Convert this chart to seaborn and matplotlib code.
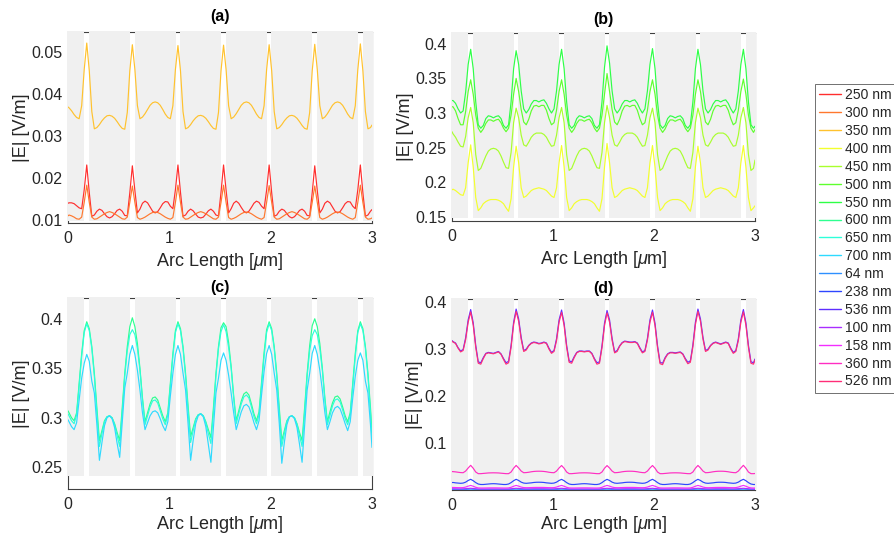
import colorsys
import numpy as np
import pandas as pd
import matplotlib
matplotlib.use("Agg")
import matplotlib.pyplot as plt
from matplotlib.lines import Line2D
import seaborn as sns

sns.set_theme(style="white")
plt.rcParams["font.family"] = ["Liberation Sans", "DejaVu Sans"]
plt.rcParams["mathtext.fontset"] = "custom"
plt.rcParams["mathtext.rm"] = "Liberation Sans"
plt.rcParams["mathtext.it"] = "Liberation Sans:italic"
plt.rcParams["axes.axisbelow"] = True

# ---------------- data ----------------
# sampling positions along the arc [um]
arc_length = np.concatenate([[0.0], np.round(0.01 + 0.025 * np.arange(120), 3), [3.0]])

wavelength_labels = ["250 nm", "300 nm", "350 nm", "400 nm", "450 nm", "500 nm",
                     "550 nm", "600 nm", "650 nm", "700 nm", "64 nm", "238 nm",
                     "536 nm", "100 nm", "158 nm", "360 nm", "526 nm"]

# white gaps between the grey regions (structure), in um
gray_start = [0.0, 0.207, 0.657, 1.107, 1.557, 2.007, 2.457, 2.907]
gray_end = [0.161, 0.611, 1.061, 1.511, 1.961, 2.411, 2.861, 3.0]

# panel (a)
e250 = [0.0140, 0.0141, 0.0141, 0.0139, 0.0134, 0.0129, 0.0127, 0.0172,
        0.0231, 0.0165, 0.0109, 0.0112, 0.0121, 0.0126, 0.0123, 0.0115, 0.0108, 0.0105, 0.0108, 0.0115, 0.0123, 0.0126, 0.0121, 0.0111, 0.0110, 0.0165,
        0.0229, 0.0170, 0.0117, 0.0126, 0.0140, 0.0145, 0.0141, 0.0131, 0.0121, 0.0117, 0.0120, 0.0129, 0.0139, 0.0144, 0.0143, 0.0133, 0.0127, 0.0172,
        0.0231, 0.0166, 0.0109, 0.0112, 0.0121, 0.0126, 0.0122, 0.0114, 0.0107, 0.0105, 0.0107, 0.0114, 0.0122, 0.0126, 0.0121, 0.0112, 0.0110, 0.0166,
        0.0231, 0.0171, 0.0117, 0.0127, 0.0140, 0.0145, 0.0140, 0.0130, 0.0121, 0.0117, 0.0121, 0.0130, 0.0140, 0.0145, 0.0142, 0.0133, 0.0127, 0.0171,
        0.0231, 0.0165, 0.0109, 0.0112, 0.0121, 0.0126, 0.0123, 0.0115, 0.0108, 0.0105, 0.0108, 0.0115, 0.0123, 0.0126, 0.0121, 0.0111, 0.0110, 0.0165,
        0.0229, 0.0170, 0.0117, 0.0126, 0.0140, 0.0145, 0.0141, 0.0131, 0.0121, 0.0117, 0.0120, 0.0129, 0.0139, 0.0144, 0.0143, 0.0133, 0.0127, 0.0172,
        0.0231, 0.0165, 0.0109, 0.0112, 0.0121, 0.0125]
e300 = [0.0110, 0.0112, 0.0110, 0.0107, 0.0103, 0.0102, 0.0107, 0.0142,
        0.0183, 0.0142, 0.0107, 0.0102, 0.0103, 0.0107, 0.0111, 0.0115, 0.0118, 0.0120, 0.0118, 0.0115, 0.0111, 0.0107, 0.0103, 0.0102, 0.0107, 0.0142,
        0.0181, 0.0142, 0.0106, 0.0102, 0.0104, 0.0107, 0.0111, 0.0115, 0.0118, 0.0119, 0.0118, 0.0115, 0.0111, 0.0107, 0.0104, 0.0102, 0.0106, 0.0142,
        0.0183, 0.0142, 0.0107, 0.0102, 0.0103, 0.0107, 0.0111, 0.0115, 0.0118, 0.0120, 0.0118, 0.0115, 0.0111, 0.0107, 0.0103, 0.0102, 0.0107, 0.0142,
        0.0183, 0.0142, 0.0106, 0.0102, 0.0104, 0.0107, 0.0111, 0.0115, 0.0118, 0.0119, 0.0118, 0.0115, 0.0111, 0.0107, 0.0104, 0.0102, 0.0106, 0.0142,
        0.0182, 0.0142, 0.0107, 0.0102, 0.0103, 0.0107, 0.0111, 0.0115, 0.0118, 0.0120, 0.0118, 0.0115, 0.0111, 0.0107, 0.0103, 0.0102, 0.0107, 0.0142,
        0.0181, 0.0142, 0.0106, 0.0102, 0.0104, 0.0107, 0.0111, 0.0115, 0.0118, 0.0119, 0.0118, 0.0115, 0.0111, 0.0107, 0.0104, 0.0102, 0.0106, 0.0142,
        0.0183, 0.0142, 0.0107, 0.0102, 0.0103, 0.0105]
e350 = [0.0369, 0.0367, 0.0360, 0.0351, 0.0344, 0.0341, 0.0372, 0.0458,
        0.0521, 0.0455, 0.0358, 0.0317, 0.0320, 0.0327, 0.0336, 0.0343, 0.0348, 0.0349, 0.0347, 0.0342, 0.0334, 0.0325, 0.0318, 0.0316, 0.0356, 0.0455,
        0.0517, 0.0458, 0.0372, 0.0341, 0.0345, 0.0353, 0.0363, 0.0373, 0.0379, 0.0381, 0.0379, 0.0373, 0.0363, 0.0352, 0.0344, 0.0341, 0.0372, 0.0458,
        0.0515, 0.0455, 0.0358, 0.0317, 0.0320, 0.0327, 0.0336, 0.0343, 0.0348, 0.0349, 0.0347, 0.0342, 0.0334, 0.0325, 0.0318, 0.0316, 0.0356, 0.0455,
        0.0516, 0.0458, 0.0372, 0.0341, 0.0345, 0.0353, 0.0363, 0.0373, 0.0379, 0.0381, 0.0379, 0.0373, 0.0363, 0.0352, 0.0344, 0.0341, 0.0372, 0.0458,
        0.0517, 0.0455, 0.0358, 0.0317, 0.0320, 0.0327, 0.0336, 0.0343, 0.0348, 0.0349, 0.0347, 0.0342, 0.0334, 0.0325, 0.0318, 0.0316, 0.0356, 0.0455,
        0.0518, 0.0458, 0.0372, 0.0341, 0.0345, 0.0353, 0.0363, 0.0373, 0.0379, 0.0381, 0.0379, 0.0373, 0.0363, 0.0352, 0.0344, 0.0341, 0.0372, 0.0458,
        0.0519, 0.0455, 0.0358, 0.0317, 0.0320, 0.0326]

# panel (b)
e400 = [0.189, 0.190, 0.188, 0.185, 0.182, 0.181, 0.192, 0.228,
        0.254, 0.222, 0.178, 0.159, 0.163, 0.169, 0.172, 0.174, 0.175, 0.175, 0.175, 0.174, 0.172, 0.169, 0.163, 0.158, 0.176, 0.222,
        0.252, 0.228, 0.192, 0.178, 0.180, 0.184, 0.188, 0.190, 0.191, 0.192, 0.191, 0.190, 0.188, 0.184, 0.180, 0.178, 0.192, 0.228,
        0.253, 0.222, 0.178, 0.159, 0.163, 0.169, 0.172, 0.174, 0.175, 0.175, 0.175, 0.174, 0.172, 0.169, 0.163, 0.158, 0.176, 0.222,
        0.256, 0.228, 0.192, 0.178, 0.180, 0.184, 0.188, 0.190, 0.191, 0.192, 0.191, 0.190, 0.188, 0.184, 0.180, 0.178, 0.192, 0.228,
        0.253, 0.222, 0.178, 0.159, 0.163, 0.169, 0.172, 0.174, 0.175, 0.175, 0.175, 0.174, 0.172, 0.169, 0.163, 0.158, 0.176, 0.222,
        0.252, 0.228, 0.192, 0.178, 0.180, 0.184, 0.188, 0.190, 0.191, 0.192, 0.191, 0.190, 0.188, 0.184, 0.180, 0.178, 0.192, 0.228,
        0.253, 0.222, 0.178, 0.159, 0.163, 0.166]
e450 = [0.273, 0.270, 0.265, 0.258, 0.252, 0.251, 0.266, 0.293,
        0.308, 0.286, 0.240, 0.217, 0.220, 0.229, 0.238, 0.245, 0.248, 0.249, 0.248, 0.245, 0.238, 0.229, 0.221, 0.220, 0.243, 0.286,
        0.307, 0.293, 0.268, 0.254, 0.252, 0.258, 0.265, 0.269, 0.271, 0.271, 0.271, 0.269, 0.265, 0.258, 0.252, 0.253, 0.268, 0.293,
        0.308, 0.286, 0.240, 0.217, 0.220, 0.229, 0.238, 0.245, 0.248, 0.249, 0.248, 0.245, 0.238, 0.229, 0.221, 0.220, 0.243, 0.286,
        0.311, 0.293, 0.268, 0.254, 0.252, 0.258, 0.265, 0.269, 0.271, 0.271, 0.271, 0.269, 0.265, 0.258, 0.252, 0.253, 0.268, 0.293,
        0.307, 0.286, 0.240, 0.217, 0.220, 0.229, 0.238, 0.245, 0.248, 0.249, 0.248, 0.245, 0.238, 0.229, 0.221, 0.220, 0.243, 0.286,
        0.307, 0.293, 0.268, 0.254, 0.252, 0.258, 0.265, 0.269, 0.271, 0.271, 0.271, 0.269, 0.265, 0.258, 0.252, 0.253, 0.268, 0.293,
        0.308, 0.286, 0.240, 0.217, 0.220, 0.232]
e500 = [0.309, 0.309, 0.303, 0.292, 0.283, 0.283, 0.302, 0.331,
        0.348, 0.327, 0.297, 0.278, 0.272, 0.277, 0.285, 0.290, 0.290, 0.288, 0.290, 0.291, 0.286, 0.278, 0.273, 0.278, 0.297, 0.327,
        0.350, 0.331, 0.305, 0.287, 0.283, 0.291, 0.303, 0.310, 0.311, 0.309, 0.311, 0.311, 0.304, 0.292, 0.283, 0.286, 0.304, 0.331,
        0.348, 0.327, 0.297, 0.278, 0.272, 0.277, 0.285, 0.290, 0.290, 0.288, 0.290, 0.291, 0.286, 0.278, 0.273, 0.278, 0.297, 0.327,
        0.357, 0.331, 0.305, 0.287, 0.283, 0.291, 0.303, 0.310, 0.311, 0.309, 0.311, 0.311, 0.304, 0.292, 0.283, 0.286, 0.304, 0.331,
        0.348, 0.327, 0.297, 0.278, 0.272, 0.277, 0.285, 0.290, 0.290, 0.288, 0.290, 0.291, 0.286, 0.278, 0.273, 0.278, 0.297, 0.327,
        0.348, 0.331, 0.305, 0.287, 0.283, 0.291, 0.303, 0.310, 0.311, 0.309, 0.311, 0.311, 0.304, 0.292, 0.283, 0.286, 0.304, 0.331,
        0.349, 0.327, 0.297, 0.278, 0.272, 0.276]
e550 = [0.318, 0.318, 0.314, 0.306, 0.300, 0.303, 0.330, 0.370,
        0.392, 0.364, 0.316, 0.283, 0.278, 0.282, 0.292, 0.296, 0.295, 0.293, 0.295, 0.296, 0.292, 0.282, 0.278, 0.283, 0.316, 0.364,
        0.390, 0.370, 0.332, 0.306, 0.300, 0.305, 0.313, 0.318, 0.318, 0.316, 0.318, 0.319, 0.314, 0.306, 0.300, 0.306, 0.332, 0.370,
        0.392, 0.364, 0.316, 0.283, 0.278, 0.282, 0.292, 0.296, 0.295, 0.293, 0.295, 0.296, 0.292, 0.282, 0.278, 0.283, 0.316, 0.366,
        0.397, 0.372, 0.332, 0.306, 0.300, 0.305, 0.313, 0.318, 0.318, 0.316, 0.318, 0.319, 0.314, 0.306, 0.300, 0.306, 0.332, 0.370,
        0.393, 0.364, 0.316, 0.283, 0.278, 0.282, 0.292, 0.296, 0.295, 0.293, 0.295, 0.296, 0.292, 0.282, 0.278, 0.283, 0.316, 0.364,
        0.392, 0.370, 0.332, 0.306, 0.300, 0.305, 0.313, 0.318, 0.318, 0.316, 0.318, 0.319, 0.314, 0.306, 0.300, 0.306, 0.332, 0.370,
        0.392, 0.364, 0.316, 0.283, 0.278, 0.281]

# panel (c)
e600 = [0.307, 0.305, 0.300, 0.297, 0.305, 0.335, 0.365, 0.388,
        0.397, 0.390, 0.372, 0.345, 0.310, 0.277, 0.287, 0.297, 0.301, 0.302, 0.300, 0.294, 0.285, 0.277, 0.310, 0.345, 0.372, 0.392,
        0.401, 0.392, 0.375, 0.350, 0.320, 0.296, 0.305, 0.314, 0.320, 0.321, 0.318, 0.310, 0.302, 0.296, 0.305, 0.335, 0.365, 0.388,
        0.397, 0.390, 0.372, 0.345, 0.312, 0.281, 0.290, 0.299, 0.303, 0.304, 0.302, 0.296, 0.288, 0.280, 0.310, 0.345, 0.372, 0.391,
        0.396, 0.392, 0.376, 0.352, 0.322, 0.297, 0.307, 0.317, 0.324, 0.326, 0.323, 0.314, 0.304, 0.297, 0.306, 0.336, 0.366, 0.389,
        0.397, 0.390, 0.372, 0.345, 0.310, 0.277, 0.287, 0.297, 0.301, 0.302, 0.300, 0.294, 0.285, 0.277, 0.310, 0.345, 0.373, 0.393,
        0.400, 0.392, 0.375, 0.350, 0.320, 0.296, 0.306, 0.315, 0.321, 0.322, 0.319, 0.311, 0.302, 0.296, 0.305, 0.335, 0.365, 0.388,
        0.397, 0.390, 0.372, 0.345, 0.310, 0.285]
e650 = [0.304, 0.302, 0.297, 0.294, 0.303, 0.332, 0.362, 0.386,
        0.395, 0.388, 0.370, 0.342, 0.305, 0.271, 0.284, 0.296, 0.301, 0.302, 0.300, 0.293, 0.282, 0.271, 0.305, 0.342, 0.368, 0.384,
        0.389, 0.384, 0.370, 0.348, 0.318, 0.293, 0.302, 0.311, 0.317, 0.318, 0.315, 0.307, 0.299, 0.293, 0.303, 0.332, 0.362, 0.386,
        0.395, 0.388, 0.370, 0.342, 0.307, 0.275, 0.287, 0.298, 0.303, 0.304, 0.302, 0.295, 0.284, 0.274, 0.305, 0.342, 0.370, 0.387,
        0.394, 0.387, 0.371, 0.350, 0.320, 0.294, 0.304, 0.314, 0.321, 0.323, 0.320, 0.311, 0.301, 0.294, 0.303, 0.332, 0.362, 0.386,
        0.395, 0.388, 0.370, 0.342, 0.305, 0.271, 0.284, 0.296, 0.301, 0.302, 0.300, 0.293, 0.282, 0.271, 0.305, 0.342, 0.368, 0.383,
        0.389, 0.384, 0.370, 0.348, 0.318, 0.293, 0.302, 0.312, 0.318, 0.319, 0.316, 0.308, 0.299, 0.293, 0.303, 0.332, 0.362, 0.386,
        0.395, 0.388, 0.370, 0.342, 0.305, 0.280]
e700 = [0.298, 0.296, 0.291, 0.288, 0.295, 0.318, 0.340, 0.355,
        0.364, 0.357, 0.337, 0.325, 0.293, 0.257, 0.275, 0.292, 0.300, 0.302, 0.299, 0.290, 0.274, 0.260, 0.295, 0.330, 0.345, 0.364,
        0.373, 0.364, 0.348, 0.328, 0.305, 0.288, 0.295, 0.302, 0.306, 0.307, 0.305, 0.299, 0.292, 0.287, 0.296, 0.322, 0.345, 0.364,
        0.373, 0.364, 0.345, 0.328, 0.294, 0.257, 0.277, 0.294, 0.302, 0.304, 0.301, 0.291, 0.273, 0.255, 0.290, 0.325, 0.340, 0.358,
        0.3655, 0.358, 0.343, 0.325, 0.305, 0.288, 0.297, 0.306, 0.312, 0.3135, 0.311, 0.304, 0.295, 0.288, 0.297, 0.323, 0.347, 0.365,
        0.373, 0.364, 0.345, 0.328, 0.294, 0.254, 0.275, 0.293, 0.301, 0.302, 0.299, 0.290, 0.273, 0.255, 0.292, 0.328, 0.345, 0.365,
        0.373, 0.364, 0.348, 0.328, 0.305, 0.288, 0.296, 0.305, 0.310, 0.3115, 0.309, 0.302, 0.294, 0.287, 0.296, 0.320, 0.342, 0.358,
        0.3655, 0.358, 0.337, 0.325, 0.293, 0.270]

# panel (d)
e64 = [0.0019, 0.0019, 0.0019, 0.0018, 0.0018, 0.0018, 0.0020, 0.0023,
       0.0025, 0.0023, 0.0020, 0.0018, 0.0017, 0.0017, 0.0017, 0.0017, 0.0017, 0.0017, 0.0017, 0.0017, 0.0017, 0.0017, 0.0017, 0.0018, 0.0020, 0.0023,
       0.0025, 0.0023, 0.0020, 0.0018, 0.0018, 0.0018, 0.0019, 0.0019, 0.0019, 0.0019, 0.0019, 0.0019, 0.0018, 0.0018, 0.0018, 0.0018, 0.0020, 0.0023,
       0.0025, 0.0023, 0.0020, 0.0018, 0.0017, 0.0017, 0.0017, 0.0017, 0.0017, 0.0017, 0.0017, 0.0017, 0.0017, 0.0017, 0.0017, 0.0018, 0.0020, 0.0023,
       0.0025, 0.0023, 0.0020, 0.0018, 0.0018, 0.0018, 0.0019, 0.0019, 0.0019, 0.0019, 0.0019, 0.0019, 0.0018, 0.0018, 0.0018, 0.0018, 0.0020, 0.0023,
       0.0025, 0.0023, 0.0020, 0.0018, 0.0017, 0.0017, 0.0017, 0.0017, 0.0017, 0.0017, 0.0017, 0.0017, 0.0017, 0.0017, 0.0017, 0.0018, 0.0020, 0.0023,
       0.0025, 0.0023, 0.0020, 0.0018, 0.0018, 0.0018, 0.0019, 0.0019, 0.0019, 0.0019, 0.0019, 0.0019, 0.0018, 0.0018, 0.0018, 0.0018, 0.0020, 0.0023,
       0.0025, 0.0023, 0.0020, 0.0018, 0.0017, 0.0017]
e238 = [0.0166, 0.0168, 0.0160, 0.0155, 0.0150, 0.0155, 0.0175, 0.0210,
        0.0235, 0.0205, 0.0165, 0.0135, 0.0125, 0.0125, 0.0130, 0.0135, 0.0140, 0.0142, 0.0140, 0.0135, 0.0130, 0.0125, 0.0125, 0.0135, 0.0165, 0.0205,
        0.0235, 0.0210, 0.0175, 0.0155, 0.0150, 0.0155, 0.0160, 0.0168, 0.0172, 0.0173, 0.0172, 0.0168, 0.0160, 0.0155, 0.0150, 0.0155, 0.0175, 0.0210,
        0.0234, 0.0205, 0.0165, 0.0135, 0.0125, 0.0125, 0.0130, 0.0135, 0.0140, 0.0142, 0.0140, 0.0135, 0.0130, 0.0125, 0.0125, 0.0135, 0.0165, 0.0205,
        0.0234, 0.0210, 0.0175, 0.0155, 0.0150, 0.0155, 0.0160, 0.0168, 0.0172, 0.0173, 0.0172, 0.0168, 0.0160, 0.0155, 0.0150, 0.0155, 0.0175, 0.0210,
        0.0235, 0.0205, 0.0165, 0.0135, 0.0125, 0.0125, 0.0130, 0.0135, 0.0140, 0.0142, 0.0140, 0.0135, 0.0130, 0.0125, 0.0125, 0.0135, 0.0165, 0.0205,
        0.0235, 0.0210, 0.0175, 0.0155, 0.0150, 0.0155, 0.0160, 0.0168, 0.0172, 0.0173, 0.0172, 0.0168, 0.0160, 0.0155, 0.0150, 0.0155, 0.0175, 0.0210,
        0.0235, 0.0205, 0.0165, 0.0135, 0.0125, 0.0125]
e536 = [0.318, 0.316, 0.313, 0.303, 0.296, 0.299, 0.324, 0.362,
        0.384, 0.356, 0.308, 0.273, 0.271, 0.282, 0.291, 0.293, 0.292, 0.291, 0.293, 0.295, 0.290, 0.280, 0.271, 0.274, 0.308, 0.357,
        0.385, 0.364, 0.325, 0.297, 0.300, 0.308, 0.313, 0.315, 0.314, 0.312, 0.313, 0.315, 0.313, 0.302, 0.293, 0.297, 0.322, 0.362,
        0.383, 0.355, 0.308, 0.275, 0.273, 0.284, 0.293, 0.296, 0.296, 0.295, 0.296, 0.296, 0.291, 0.280, 0.271, 0.273, 0.307, 0.355,
        0.382, 0.362, 0.323, 0.294, 0.297, 0.307, 0.314, 0.317, 0.316, 0.315, 0.315, 0.316, 0.313, 0.303, 0.294, 0.297, 0.323, 0.362,
        0.383, 0.355, 0.307, 0.272, 0.270, 0.282, 0.290, 0.293, 0.293, 0.292, 0.293, 0.294, 0.290, 0.280, 0.272, 0.275, 0.309, 0.357,
        0.385, 0.364, 0.325, 0.297, 0.300, 0.308, 0.313, 0.315, 0.313, 0.311, 0.313, 0.315, 0.313, 0.302, 0.293, 0.297, 0.322, 0.362,
        0.384, 0.356, 0.308, 0.273, 0.271, 0.279]
e100 = [0.0034, 0.0034, 0.0033, 0.0032, 0.0032, 0.0033, 0.0036, 0.0041,
        0.0045, 0.0040, 0.0034, 0.0030, 0.0029, 0.0029, 0.0029, 0.0030, 0.0030, 0.0030, 0.0030, 0.0030, 0.0029, 0.0029, 0.0029, 0.0030, 0.0034, 0.0040,
        0.0045, 0.0041, 0.0036, 0.0033, 0.0032, 0.0032, 0.0033, 0.0034, 0.0034, 0.0034, 0.0034, 0.0034, 0.0033, 0.0032, 0.0032, 0.0033, 0.0036, 0.0041,
        0.0045, 0.0040, 0.0034, 0.0030, 0.0029, 0.0029, 0.0029, 0.0030, 0.0030, 0.0030, 0.0030, 0.0030, 0.0029, 0.0029, 0.0029, 0.0030, 0.0034, 0.0040,
        0.0045, 0.0041, 0.0036, 0.0033, 0.0032, 0.0032, 0.0033, 0.0034, 0.0034, 0.0034, 0.0034, 0.0034, 0.0033, 0.0032, 0.0032, 0.0033, 0.0036, 0.0041,
        0.0045, 0.0040, 0.0034, 0.0030, 0.0029, 0.0029, 0.0029, 0.0030, 0.0030, 0.0030, 0.0030, 0.0030, 0.0029, 0.0029, 0.0029, 0.0030, 0.0034, 0.0040,
        0.0045, 0.0041, 0.0036, 0.0033, 0.0032, 0.0032, 0.0033, 0.0034, 0.0034, 0.0034, 0.0034, 0.0034, 0.0033, 0.0032, 0.0032, 0.0033, 0.0036, 0.0041,
        0.0045, 0.0040, 0.0034, 0.0030, 0.0029, 0.0029]
e158 = [0.0062, 0.0062, 0.0060, 0.0058, 0.0057, 0.0059, 0.0070, 0.0090,
        0.0105, 0.0088, 0.0065, 0.0052, 0.0050, 0.0050, 0.0051, 0.0052, 0.0053, 0.0053, 0.0053, 0.0052, 0.0051, 0.0050, 0.0050, 0.0052, 0.0065, 0.0088,
        0.0105, 0.0090, 0.0070, 0.0059, 0.0057, 0.0058, 0.0060, 0.0062, 0.0063, 0.0063, 0.0063, 0.0062, 0.0060, 0.0058, 0.0057, 0.0059, 0.0070, 0.0090,
        0.0105, 0.0088, 0.0065, 0.0052, 0.0050, 0.0050, 0.0051, 0.0052, 0.0053, 0.0053, 0.0053, 0.0052, 0.0051, 0.0050, 0.0050, 0.0052, 0.0065, 0.0088,
        0.0105, 0.0090, 0.0070, 0.0059, 0.0057, 0.0058, 0.0060, 0.0062, 0.0063, 0.0063, 0.0063, 0.0062, 0.0060, 0.0058, 0.0057, 0.0059, 0.0070, 0.0090,
        0.0105, 0.0088, 0.0065, 0.0052, 0.0050, 0.0050, 0.0051, 0.0052, 0.0053, 0.0053, 0.0053, 0.0052, 0.0051, 0.0050, 0.0050, 0.0052, 0.0065, 0.0088,
        0.0105, 0.0090, 0.0070, 0.0059, 0.0057, 0.0058, 0.0060, 0.0062, 0.0063, 0.0063, 0.0063, 0.0062, 0.0060, 0.0058, 0.0057, 0.0059, 0.0070, 0.0090,
        0.0105, 0.0088, 0.0065, 0.0052, 0.0050, 0.0050]
e360 = [0.0400, 0.0398, 0.0393, 0.0385, 0.0378, 0.0375, 0.0410, 0.0475,
        0.0532, 0.0470, 0.0390, 0.0355, 0.0355, 0.0360, 0.0365, 0.0370, 0.0372, 0.0373, 0.0372, 0.0370, 0.0365, 0.0360, 0.0355, 0.0355, 0.0390, 0.0470,
        0.0530, 0.0475, 0.0410, 0.0375, 0.0378, 0.0385, 0.0395, 0.0402, 0.0406, 0.0407, 0.0406, 0.0402, 0.0395, 0.0385, 0.0378, 0.0375, 0.0410, 0.0475,
        0.0528, 0.0470, 0.0390, 0.0355, 0.0355, 0.0360, 0.0365, 0.0370, 0.0372, 0.0373, 0.0372, 0.0370, 0.0365, 0.0360, 0.0355, 0.0355, 0.0390, 0.0470,
        0.0527, 0.0475, 0.0410, 0.0375, 0.0378, 0.0385, 0.0395, 0.0402, 0.0406, 0.0407, 0.0406, 0.0402, 0.0395, 0.0385, 0.0378, 0.0375, 0.0410, 0.0475,
        0.0528, 0.0470, 0.0390, 0.0355, 0.0355, 0.0360, 0.0365, 0.0370, 0.0372, 0.0373, 0.0372, 0.0370, 0.0365, 0.0360, 0.0355, 0.0355, 0.0390, 0.0470,
        0.0530, 0.0475, 0.0410, 0.0375, 0.0378, 0.0385, 0.0395, 0.0402, 0.0406, 0.0407, 0.0406, 0.0402, 0.0395, 0.0385, 0.0378, 0.0375, 0.0410, 0.0475,
        0.0532, 0.0470, 0.0390, 0.0355, 0.0355, 0.0358]
e526 = [0.317, 0.315, 0.312, 0.302, 0.294, 0.297, 0.320, 0.357,
        0.379, 0.351, 0.304, 0.270, 0.268, 0.280, 0.290, 0.292, 0.291, 0.290, 0.292, 0.294, 0.289, 0.278, 0.268, 0.271, 0.304, 0.352,
        0.380, 0.359, 0.321, 0.295, 0.298, 0.307, 0.312, 0.314, 0.313, 0.311, 0.312, 0.314, 0.312, 0.300, 0.291, 0.295, 0.318, 0.357,
        0.378, 0.350, 0.304, 0.272, 0.270, 0.282, 0.292, 0.295, 0.295, 0.294, 0.295, 0.295, 0.290, 0.278, 0.268, 0.270, 0.303, 0.350,
        0.377, 0.357, 0.319, 0.292, 0.295, 0.306, 0.313, 0.316, 0.315, 0.314, 0.314, 0.315, 0.312, 0.301, 0.292, 0.295, 0.319, 0.357,
        0.378, 0.350, 0.303, 0.269, 0.267, 0.280, 0.289, 0.292, 0.292, 0.291, 0.292, 0.293, 0.289, 0.278, 0.269, 0.272, 0.305, 0.352,
        0.380, 0.359, 0.321, 0.295, 0.298, 0.307, 0.312, 0.314, 0.312, 0.310, 0.312, 0.314, 0.312, 0.300, 0.291, 0.295, 0.318, 0.357,
        0.379, 0.351, 0.304, 0.270, 0.268, 0.277]

series = {"250 nm": e250, "300 nm": e300, "350 nm": e350,
          "400 nm": e400, "450 nm": e450, "500 nm": e500, "550 nm": e550,
          "600 nm": e600, "650 nm": e650, "700 nm": e700,
          "64 nm": e64, "238 nm": e238, "536 nm": e536, "100 nm": e100,
          "158 nm": e158, "360 nm": e360, "526 nm": e526}
for k, v in series.items():
    assert len(v) == len(arc_length), (k, len(v))


def soften(rgb, f=0.18):
    return tuple(c + (1 - c) * f for c in rgb)


colors = {lab: soften(colorsys.hsv_to_rgb(i / 17.0, 1.0, 1.0))
          for i, lab in enumerate(wavelength_labels)}

panels = [
    dict(title="(a)", labels=["250 nm", "300 nm", "350 nm"],
         rect=[68 / 895, 1 - 223 / 537, 304 / 895, 191.3 / 537],
         ylim=(0.0093, 0.0548), gray_bottom=0.0097,
         yticks=[0.01, 0.02, 0.03, 0.04, 0.05],
         yticklabels=["0.01", "0.02", "0.03", "0.04", "0.05"], tpad=7.5, ylpad=1.0, xlpad=4),
    dict(title="(b)", labels=["400 nm", "450 nm", "500 nm", "550 nm"],
         rect=[452 / 895, 1 - 221 / 537, 303 / 895, 188.3 / 537],
         ylim=(0.144, 0.416), gray_bottom=0.1483,
         yticks=[0.15, 0.2, 0.25, 0.3, 0.35, 0.4],
         yticklabels=["0.15", "0.2", "0.25", "0.3", "0.35", "0.4"], tpad=6.5, ylpad=1.0, xlpad=4),
    dict(title="(c)", labels=["600 nm", "650 nm", "700 nm"],
         rect=[68 / 895, 1 - 489 / 537, 304 / 895, 191 / 537],
         ylim=(0.228, 0.421), gray_bottom=0.241,
         yticks=[0.25, 0.3, 0.35, 0.4],
         yticklabels=["0.25", "0.3", "0.35", "0.4"], tpad=4.5, ylpad=1.0, xlpad=1.5),
    dict(title="(d)", labels=["64 nm", "238 nm", "536 nm", "100 nm", "158 nm", "360 nm", "526 nm"],
         rect=[452 / 895, 1 - 490 / 537, 303 / 895, 191 / 537],
         ylim=(0.0008, 0.4064), gray_bottom=0.0008,
         yticks=[0.1, 0.2, 0.3, 0.4],
         yticklabels=["0.1", "0.2", "0.3", "0.4"], tpad=4.0, ylpad=1.0, xlpad=1.0),
]

TXT = "#262626"
SPINE = "#404040"

fig = plt.figure(figsize=(8.95, 5.37), dpi=100)

for p in panels:
    ax = fig.add_axes(p["rect"])
    ax.set_facecolor("white")
    labs = p["labels"]
    df = pd.DataFrame({
        "arc": np.tile(arc_length, len(labs)),
        "E": np.concatenate([series[l] for l in labs]),
        "wl": np.repeat(labs, len(arc_length)),
    })
    sns.lineplot(data=df, x="arc", y="E", hue="wl", hue_order=labs,
                 palette=[colors[l] for l in labs], estimator=None, sort=False,
                 linewidth=0.85, legend=False, ax=ax, zorder=3)
    y0, y1 = p["ylim"]
    # grey regions (they cover the box line, as in the original)
    ytop = y1 + (y1 - y0) * 0.006
    for j, (s, e) in enumerate(zip(gray_start, gray_end)):
        s2 = s - 0.012 if j == 0 else s
        e2 = e + 0.012 if j == len(gray_start) - 1 else e
        ax.fill_between([s2, e2], p["gray_bottom"], ytop, color="#f0f0f0",
                        linewidth=0, zorder=2.6, clip_on=False)
    ax.set_xlim(0, 3)
    ax.set_ylim(y0, y1)
    ax.set_xticks([0, 1, 2, 3])
    ax.set_xticklabels(["0", "1", "2", "3"])
    ax.set_yticks(p["yticks"])
    ax.set_yticklabels(p["yticklabels"])
    for sp in ax.spines.values():
        sp.set_visible(True)
        sp.set_color(SPINE)
        sp.set_linewidth(0.8)
    ax.tick_params(direction="in", length=3, width=0.6, color=SPINE,
                   labelsize=11.5, labelcolor=TXT)
    ax.tick_params(axis="x", pad=5.5)
    ax.tick_params(axis="y", pad=4)
    ax.set_title(p["title"], fontsize=11.5, fontweight="bold", color="black", pad=p["tpad"])
    ax.set_xlabel(r"Arc Length [$\mu$m]", fontsize=13, color=TXT, labelpad=p["xlpad"])
    ax.set_ylabel("|E| [V/m]", fontsize=13, color=TXT, labelpad=p["ylpad"])
    ax.grid(False)

handles = [Line2D([0], [0], color=colors[l], lw=1.0) for l in wavelength_labels]
leg = fig.legend(handles, wavelength_labels, loc="upper left",
                 bbox_to_anchor=(815 / 895, 1 - 84 / 537), bbox_transform=fig.transFigure,
                 fontsize=10, frameon=True, fancybox=False, edgecolor="#5a5a5a",
                 framealpha=1, borderpad=0.3, labelspacing=0.28, handlelength=1.6,
                 handletextpad=0.25, borderaxespad=0)
leg.get_frame().set_linewidth(0.6)
for t in leg.get_texts():
    t.set_color(TXT)

fig.savefig("out.png", dpi=100)
